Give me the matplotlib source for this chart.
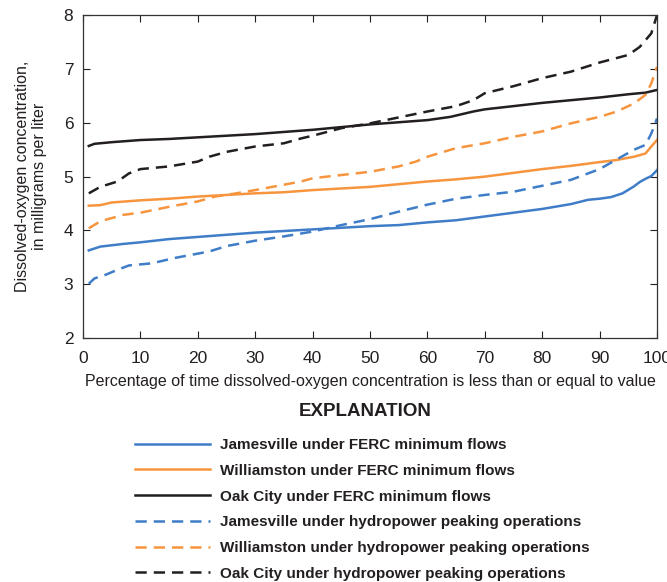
import matplotlib
matplotlib.use('Agg')
import matplotlib.pyplot as plt

plt.rcParams['font.family'] = ['Liberation Sans', 'DejaVu Sans']

# Duration-curve values (percent of time, mg/L)
jam_ferc_x = [1, 3, 7, 10, 15, 20, 25, 30, 35, 40, 45, 50, 55, 60, 65, 70, 75, 80, 85, 88, 90, 92, 94, 96, 97, 98, 99, 100]
jam_ferc_y = [3.63, 3.70, 3.75, 3.78, 3.84, 3.88, 3.92, 3.96, 3.99, 4.02, 4.05, 4.08, 4.10, 4.15, 4.19, 4.26, 4.33, 4.40,
              4.49, 4.57, 4.59, 4.62, 4.69, 4.82, 4.90, 4.96, 5.01, 5.12]

wil_ferc_x = [1, 3, 5, 10, 15, 20, 25, 30, 35, 40, 45, 50, 55, 60, 65, 70, 75, 80, 85, 90, 93, 96, 98, 99, 100]
wil_ferc_y = [4.46, 4.47, 4.52, 4.56, 4.59, 4.63, 4.66, 4.69, 4.71, 4.75, 4.78, 4.81, 4.86, 4.91, 4.95, 5.00, 5.07, 5.14,
              5.20, 5.27, 5.31, 5.37, 5.43, 5.56, 5.68]

oak_ferc_x = [1, 2, 5, 10, 15, 20, 25, 30, 35, 40, 45, 50, 55, 60, 64, 68, 70, 75, 80, 85, 90, 95, 98, 100]
oak_ferc_y = [5.57, 5.61, 5.64, 5.68, 5.70, 5.73, 5.76, 5.79, 5.83, 5.87, 5.92, 5.97, 6.01, 6.05, 6.11, 6.21, 6.25, 6.31,
              6.37, 6.42, 6.47, 6.53, 6.56, 6.61]

jam_peak_x = [1, 2, 4, 6, 8, 12, 16, 20, 22, 25, 30, 35, 40, 45, 50, 55, 60, 65, 70, 75, 80, 85, 90, 93, 96, 98, 99, 100]
jam_peak_y = [3.01, 3.11, 3.18, 3.27, 3.35, 3.39, 3.49, 3.57, 3.61, 3.71, 3.81, 3.89, 3.98, 4.10, 4.21, 4.35, 4.48, 4.59,
              4.66, 4.72, 4.83, 4.94, 5.14, 5.32, 5.50, 5.59, 5.80, 6.08]

wil_peak_x = [1, 3, 5, 7, 10, 15, 20, 23, 25, 30, 35, 38, 40, 45, 50, 55, 58, 60, 65, 70, 75, 80, 85, 90, 93, 96, 98, 99, 100]
wil_peak_y = [4.04, 4.17, 4.23, 4.29, 4.33, 4.44, 4.54, 4.63, 4.66, 4.75, 4.85, 4.91, 4.97, 5.03, 5.09, 5.19, 5.28, 5.37,
              5.53, 5.62, 5.74, 5.84, 5.99, 6.11, 6.21, 6.36, 6.52, 6.73, 7.04]

oak_peak_x = [1, 3, 6, 8, 10, 15, 20, 22, 25, 30, 35, 38, 40, 45, 50, 55, 60, 65, 68, 70, 75, 80, 85, 90, 95, 97, 99, 100]
oak_peak_y = [4.69, 4.81, 4.91, 5.06, 5.14, 5.19, 5.28, 5.37, 5.46, 5.56, 5.62, 5.71, 5.76, 5.90, 5.99, 6.10, 6.21, 6.31,
              6.42, 6.55, 6.68, 6.83, 6.95, 7.12, 7.26, 7.41, 7.66, 8.00]

labels = ['Jamesville under FERC minimum flows',
          'Williamston under FERC minimum flows',
          'Oak City under FERC minimum flows',
          'Jamesville under hydropower peaking operations',
          'Williamston under hydropower peaking operations',
          'Oak City under hydropower peaking operations']

blue = '#3f7dc8'
orange = '#f7953f'
black = '#231f20'

fig = plt.figure(figsize=(6.67, 5.82), dpi=100)
ax = fig.add_axes([0.1245, 0.419, 0.8605, 0.555])

dash = (4.5, 2.8)
series = [
    (jam_ferc_x, jam_ferc_y, blue, '-'),
    (wil_ferc_x, wil_ferc_y, orange, '-'),
    (oak_ferc_x, oak_ferc_y, black, '-'),
    (jam_peak_x, jam_peak_y, blue, '--'),
    (wil_peak_x, wil_peak_y, orange, '--'),
    (oak_peak_x, oak_peak_y, black, '--'),
]
handles = []
for (x, y, c, ls), lab in zip(series, labels):
    line, = ax.plot(x, y, color=c, lw=1.8, linestyle=ls, label=lab)
    if ls == '--':
        line.set_dashes(dash)
    handles.append(line)

ax.set_xlim(0, 100)
ax.set_ylim(2, 8)
ax.set_xticks(range(0, 101, 10))
ax.set_yticks(range(2, 9))
ax.tick_params(direction='in', top=True, right=True, length=5, width=0.8, labelsize=12.5, colors=black)
ax.tick_params(axis='x', pad=9)
ax.tick_params(axis='y', pad=7)
for s in ax.spines.values():
    s.set_linewidth(0.9)
    s.set_color('#333333')

ax.set_xlabel('Percentage of time dissolved-oxygen concentration is less than or equal to value',
              fontsize=11.5, color=black, labelpad=6)
fig.text(31 / 667, 1 - 176 / 582, 'Dissolved-oxygen concentration,\nin milligrams per liter',
         rotation=90, ha='center', va='center', multialignment='center', fontsize=11.5, color=black)

# Explanation (legend) below the plot
fig.text(365 / 667, 1 - 411 / 582, 'EXPLANATION', ha='center', va='center',
         fontsize=13.5, fontweight='bold', color=black)
leg = fig.legend(handles=handles, loc='upper left', bbox_to_anchor=(135 / 667, 1 - 438 / 582),
                 frameon=False, borderpad=0, borderaxespad=0, handlelength=4.9, handletextpad=0.65,
                 labelspacing=0.77, prop={'weight': 'bold', 'size': 11})
for t in leg.get_texts():
    t.set_color(black)

fig.savefig('out.png', dpi=100)
